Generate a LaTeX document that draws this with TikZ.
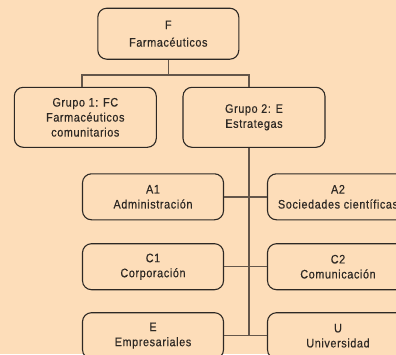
\documentclass[tikz,border=0pt]{standalone}
\usepackage{fontspec}
\setmainfont{Liberation Sans}[FakeStretch=0.88,LetterSpace=5,FakeBold=0.4]
\definecolor{paper}{RGB}{253,221,185}
\definecolor{frame}{RGB}{45,40,36}
\definecolor{link}{RGB}{100,86,74}
\tikzset{
  unit/.style={draw=frame, fill=paper, line width=1.1pt, rounded corners=9pt,
    minimum width=141pt, minimum height=46pt, inner sep=0pt, align=center,
    font=\fontsize{12.3}{15}\selectfont, text=frame},
  topunit/.style={unit, minimum height=51pt, font=\fontsize{12.3}{17.5}\selectfont},
  groupunit/.style={unit, minimum width=142pt, minimum height=60pt},
  conn/.style={draw=link, line width=1.4pt}
}
\begin{document}
\begin{tikzpicture}[x=1pt,y=-1pt]
  \fill[paper] (0,0) rectangle (396,354);
  \useasboundingbox (0,0) rectangle (396,354);

  % hierarchy of boxes
  \node[topunit]   (f)  at (168.3,33.7) {F\\Farmacéuticos};
  \node[groupunit] (g1) at (85.3,117.3) {Grupo 1: FC\\Farmacéuticos\\comunitarios};
  \node[groupunit] (g2) at (254,117.3)  {Grupo 2: E\\Estrategas};

  \node[unit] (a1) at (153,196.8) {A1\\Administración};
  \node[unit] (a2) at (338,196.8) {A2\\Sociedades científicas};
  \node[unit] (c1) at (153,266.7) {C1\\Corporación};
  \node[unit] (c2) at (338,266.7) {C2\\Comunicación};
  \node[unit] (e)  at (153,335.7) {E\\Empresariales};
  \node[unit] (u)  at (338,335.7) {U\\Universidad};

  % branch points of the tree
  \coordinate (bl) at (82,75);
  \coordinate (br) at (249,75);
  \coordinate (trunk) at (249,336);

  \draw[conn] (f.south) -- (f.south |- bl);
  \draw[conn] (g1.north -| bl) -- (bl) -- (br) -- (g2.north -| br);
  \draw[conn] (g2.south -| trunk) -- (trunk);
  \draw[conn] (a1.east) -- (a2.west);
  \draw[conn] (c1.east) -- (c2.west);
  \draw[conn] (e.east) -- (u.west);
\end{tikzpicture}
\end{document}
